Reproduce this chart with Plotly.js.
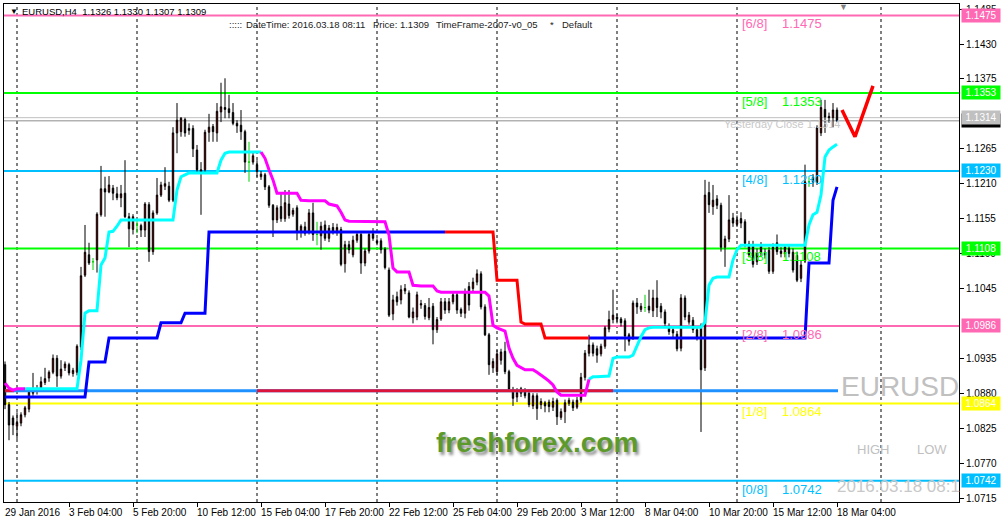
<!DOCTYPE html>
<html>
<head>
<meta charset="utf-8">
<script src="https://cdn.plot.ly/plotly-3.0.1.min.js"></script>
<style>html,body{margin:0;padding:0;background:#fff;}#chart{width:1001px;height:525px;}</style>
</head>
<body>
<div id="chart"></div>
<script>
// ---------- DATA (EURUSD, H4, bar index 0 = 29 Jan 2016) ----------
const opens = [
1.0925,1.0862,1.0841,1.0828,1.0833,1.0846,1.0855,1.0880,1.0883,1.0888,
1.0897,1.0904,1.0913,1.0935,1.0907,1.0920,1.0925,1.0911,1.0913,1.0953,
1.1066,1.1098,1.1087,1.1090,1.1161,1.1202,1.1197,1.1203,1.1194,1.1188,
1.1195,1.1158,1.1138,1.1145,1.1144,1.1137,1.1177,1.1103,1.1164,1.1192,
1.1206,1.1206,1.1184,1.1290,1.1292,1.1311,1.1297,1.1297,1.1263,1.1232,
1.1232,1.1291,1.1300,1.1290,1.1323,1.1330,1.1328,1.1322,1.1305,1.1302,
1.1292,1.1244,1.1244,1.1240,1.1221,1.1224,1.1205,1.1176,1.1153,1.1174,
1.1155,1.1178,1.1162,1.1172,1.1134,1.1142,1.1134,1.1164,1.1130,1.1128,
1.1145,1.1124,1.1141,1.1133,1.1138,1.1084,1.1114,1.1098,1.1121,1.1130,
1.1085,1.1104,1.1131,1.1120,1.1120,1.1107,1.1074,1.1005,1.1032,1.1027,
1.1041,1.1038,1.0999,1.1000,1.1019,1.1018,1.0999,1.1017,1.0980,1.0997,
1.1024,1.1011,1.1024,1.1035,1.1012,1.1006,1.1048,1.1045,1.1055,1.1068,
1.1016,1.0972,1.0920,1.0914,1.0932,1.0946,1.0914,1.0886,1.0874,1.0887,
1.0882,1.0880,1.0860,1.0876,1.0862,1.0865,1.0866,1.0858,1.0869,1.0842,
1.0851,1.0864,1.0866,1.0858,1.0869,1.0905,1.0943,1.0956,1.0950,1.0942,
1.0954,1.0981,1.0996,1.1000,1.0997,1.0994,1.0972,1.0968,1.1022,1.1012,
1.1015,1.1017,1.1010,1.1030,1.1017,1.1008,1.0985,1.0980,1.0973,1.0951,
1.1030,1.0992,1.0995,1.0980,1.0984,1.0920,1.1196,1.1174,1.1186,1.1176,
1.1110,1.1123,1.1156,1.1146,1.1155,1.1150,1.1115,1.1114,1.1087,1.1113,
1.1102,1.1105,1.1072,1.1117,1.1104,1.1100,1.1108,1.1102,1.1097,1.1061,
1.1088,1.1213,1.1220,1.1212,1.1290,1.1327,1.1316,1.1314,1.1326];
const highs = [
1.0930,1.0866,1.0845,1.0850,1.0850,1.0860,1.0885,1.0912,1.0893,1.0906,
1.0920,1.0916,1.0941,1.0940,1.0932,1.0930,1.0928,1.0920,1.0957,1.1079,
1.1145,1.1117,1.1093,1.1165,1.1238,1.1221,1.1222,1.1208,1.1205,1.1208,
1.1247,1.1164,1.1162,1.1153,1.1147,1.1181,1.1181,1.1168,1.1219,1.1213,
1.1236,1.1213,1.1299,1.1337,1.1315,1.1314,1.1305,1.1302,1.1271,1.1244,
1.1295,1.1320,1.1304,1.1337,1.1369,1.1376,1.1350,1.1337,1.1310,1.1326,
1.1295,1.1276,1.1260,1.1247,1.1230,1.1227,1.1208,1.1178,1.1176,1.1195,
1.1200,1.1200,1.1172,1.1176,1.1146,1.1150,1.1170,1.1180,1.1150,1.1150,
1.1152,1.1145,1.1148,1.1147,1.1142,1.1120,1.1120,1.1128,1.1134,1.1135,
1.1108,1.1134,1.1140,1.1124,1.1124,1.1110,1.1078,1.1035,1.1040,1.1050,
1.1052,1.1042,1.1015,1.1040,1.1027,1.1022,1.1030,1.1022,1.1000,1.1030,
1.1030,1.1030,1.1040,1.1040,1.1015,1.1045,1.1055,1.1062,1.1075,1.1072,
1.1020,1.0975,1.0935,1.0948,1.0950,1.0961,1.0917,1.0890,1.0888,1.0890,
1.0888,1.0886,1.0880,1.0880,1.0872,1.0868,1.0870,1.0873,1.0872,1.0856,
1.0870,1.0873,1.0870,1.0874,1.0912,1.0948,1.0972,1.0960,1.0955,1.0958,
1.0986,1.1010,1.1043,1.1005,1.1000,1.0998,1.0975,1.1026,1.1030,1.1022,
1.1035,1.1043,1.1043,1.1058,1.1022,1.1012,1.0990,1.0985,1.0978,1.1036,
1.1034,1.1008,1.1000,1.0985,1.0990,1.1216,1.1213,1.1208,1.1192,1.1180,
1.1128,1.1192,1.1164,1.1160,1.1165,1.1154,1.1120,1.1120,1.1108,1.1118,
1.1108,1.1110,1.1116,1.1130,1.1110,1.1115,1.1112,1.1108,1.1103,1.1090,
1.1240,1.1220,1.1225,1.1302,1.1342,1.1342,1.1322,1.1337,1.1330];
const lows = [
1.0855,1.0806,1.0814,1.0808,1.0828,1.0842,1.0850,1.0876,1.0878,1.0884,
1.0893,1.0898,1.0910,1.0890,1.0903,1.0915,1.0908,1.0906,1.0908,1.0948,
1.1063,1.1082,1.1074,1.1070,1.1158,1.1158,1.1195,1.1184,1.1184,1.1173,
1.1156,1.1110,1.1130,1.1132,1.1126,1.1126,1.1087,1.1098,1.1161,1.1189,
1.1200,1.1181,1.1181,1.1258,1.1284,1.1284,1.1287,1.1252,1.1227,1.1161,
1.1228,1.1276,1.1276,1.1276,1.1307,1.1313,1.1313,1.1302,1.1290,1.1279,
1.1227,1.1213,1.1240,1.1221,1.1216,1.1200,1.1172,1.1126,1.1148,1.1150,
1.1150,1.1155,1.1158,1.1121,1.1125,1.1128,1.1130,1.1120,1.1113,1.1106,
1.1120,1.1118,1.1130,1.1128,1.1080,1.1070,1.1100,1.1094,1.1117,1.1068,
1.1080,1.1100,1.1120,1.1113,1.1100,1.1075,1.1000,1.0995,1.1018,1.1020,
1.1036,1.0998,1.0990,1.0995,1.1013,1.0996,1.0995,1.0957,1.0975,1.0994,
1.1005,1.1006,1.1020,1.1005,1.1000,1.0998,1.1010,1.1040,1.1050,1.1012,
1.0970,1.0909,1.0912,1.0909,1.0925,1.0910,1.0882,1.0860,1.0866,1.0874,
1.0872,1.0858,1.0855,1.0838,1.0855,1.0850,1.0850,1.0852,1.0830,1.0838,
1.0833,1.0860,1.0852,1.0855,1.0865,1.0900,1.0938,1.0938,1.0928,1.0938,
1.0950,1.0976,1.0990,1.0990,1.0985,1.0946,1.0955,1.0964,1.1005,1.1008,
1.1008,1.1006,1.1000,1.1000,1.0998,1.0985,1.0972,1.0968,1.0946,1.0946,
1.0995,1.0988,1.0975,1.0963,1.0819,1.0915,1.1164,1.1161,1.1170,1.1103,
1.1079,1.1118,1.1142,1.1142,1.1140,1.1110,1.1094,1.1078,1.1082,1.1095,
1.1092,1.1068,1.1068,1.1098,1.1094,1.1094,1.1094,1.1070,1.1055,1.1055,
1.1085,1.1205,1.1205,1.1208,1.1285,1.1290,1.1306,1.1299,1.1307];
const closes = [
1.0862,1.0830,1.0830,1.0834,1.0846,1.0857,1.0882,1.0883,1.0887,1.0898,
1.0903,1.0913,1.0935,1.0907,1.0918,1.0926,1.0912,1.0916,1.0954,1.1065,
1.1102,1.1085,1.1087,1.1162,1.1202,1.1197,1.1208,1.1195,1.1188,1.1194,
1.1158,1.1139,1.1158,1.1145,1.1137,1.1178,1.1103,1.1164,1.1192,1.1208,
1.1210,1.1184,1.1290,1.1310,1.1313,1.1290,1.1294,1.1265,1.1232,1.1227,
1.1291,1.1299,1.1292,1.1324,1.1331,1.1327,1.1322,1.1305,1.1301,1.1292,
1.1244,1.1244,1.1254,1.1229,1.1225,1.1205,1.1176,1.1153,1.1172,1.1155,
1.1180,1.1160,1.1168,1.1134,1.1143,1.1132,1.1164,1.1130,1.1130,1.1143,
1.1124,1.1140,1.1134,1.1141,1.1083,1.1114,1.1106,1.1121,1.1130,1.1085,
1.1104,1.1130,1.1124,1.1117,1.1106,1.1078,1.1003,1.1027,1.1024,1.1043,
1.1045,1.1000,1.1008,1.1035,1.1021,1.1001,1.1015,1.0980,1.0996,1.1024,
1.1011,1.1024,1.1035,1.1011,1.1006,1.1039,1.1019,1.1055,1.1068,1.1016,
1.0972,1.0925,1.0930,1.0942,1.0945,1.0914,1.0886,1.0872,1.0881,1.0880,
1.0876,1.0862,1.0876,1.0856,1.0867,1.0860,1.0859,1.0867,1.0843,1.0851,
1.0865,1.0869,1.0857,1.0869,1.0905,1.0943,1.0956,1.0943,1.0940,1.0954,
1.0983,1.0996,1.1003,1.0997,1.0991,1.0970,1.0962,1.1022,1.1016,1.1017,
1.1015,1.1011,1.1030,1.1015,1.1008,1.0990,1.0977,1.0975,1.0950,1.1030,
1.1000,1.1003,1.0980,1.0968,1.0917,1.1192,1.1177,1.1184,1.1176,1.1110,
1.1123,1.1153,1.1148,1.1153,1.1148,1.1116,1.1098,1.1083,1.1100,1.1101,
1.1098,1.1072,1.1110,1.1103,1.1100,1.1110,1.1100,1.1074,1.1058,1.1082,
1.1213,1.1213,1.1212,1.1298,1.1330,1.1315,1.1314,1.1326,1.1309];

// fast trailing line (cyan when up, magenta when down)
const trendLine = [
1.0896,1.0888,1.0885,1.0887,1.0887,1.0887,1.0887,1.0887,1.0887,1.0887,
1.0887,1.0887,1.0887,1.0887,1.0887,1.0887,1.0887,1.0887,1.0887,1.0932,
1.1006,1.1010,1.1010,1.1010,1.1082,1.1093,1.1134,1.1135,1.1143,1.1153,
1.1153,1.1153,1.1153,1.1153,1.1153,1.1153,1.1153,1.1153,1.1153,1.1153,
1.1153,1.1153,1.1153,1.1200,1.1221,1.1224,1.1227,1.1227,1.1227,1.1227,
1.1227,1.1227,1.1227,1.1227,1.1247,1.1258,1.1260,1.1260,1.1260,1.1260,
1.1260,1.1260,1.1260,1.1260,1.1260,1.1250,1.1232,1.1216,1.1195,1.1195,
1.1195,1.1195,1.1195,1.1195,1.1184,1.1183,1.1183,1.1183,1.1183,1.1183,
1.1183,1.1178,1.1176,1.1175,1.1165,1.1153,1.1151,1.1151,1.1151,1.1151,
1.1151,1.1151,1.1151,1.1151,1.1151,1.1150,1.1129,1.1077,1.1071,1.1071,
1.1071,1.1071,1.1050,1.1049,1.1049,1.1049,1.1049,1.1049,1.1041,1.1039,
1.1039,1.1039,1.1039,1.1039,1.1039,1.1039,1.1039,1.1039,1.1039,1.1039,
1.1039,1.1033,1.0987,1.0983,1.0981,1.0978,1.0951,1.0935,1.0924,1.0920,
1.0917,1.0917,1.0917,1.0913,1.0909,1.0904,1.0899,1.0893,1.0882,1.0877,
1.0877,1.0877,1.0877,1.0877,1.0877,1.0877,1.0902,1.0906,1.0906,1.0906,
1.0906,1.0907,1.0935,1.0937,1.0937,1.0937,1.0937,1.0940,1.0956,1.0969,
1.0980,1.0983,1.0984,1.0984,1.0984,1.0984,1.0984,1.0984,1.0984,1.0984,
1.0984,1.0984,1.0984,1.0984,1.0984,1.0992,1.1050,1.1061,1.1063,1.1063,
1.1063,1.1063,1.1090,1.1106,1.1113,1.1113,1.1113,1.1113,1.1113,1.1113,
1.1113,1.1113,1.1113,1.1113,1.1113,1.1113,1.1113,1.1113,1.1113,1.1113,
1.1113,1.1145,1.1161,1.1165,1.1192,1.1252,1.1263,1.1268,1.1272];
const trendDownSegments = [[0,5],[64,146]];

// slow channel line (blue when up, red when down)
const channelLine = [
1.0874,1.0874,1.0874,1.0874,1.0874,1.0874,1.0874,1.0874,1.0874,1.0874,
1.0874,1.0874,1.0874,1.0874,1.0874,1.0874,1.0874,1.0874,1.0874,1.0874,
1.0874,1.0929,1.0929,1.0929,1.0929,1.0929,1.0967,1.0967,1.0967,1.0967,
1.0967,1.0967,1.0967,1.0967,1.0967,1.0967,1.0967,1.0967,1.0967,1.0991,
1.0991,1.0991,1.0991,1.0991,1.0991,1.1006,1.1006,1.1006,1.1006,1.1006,
1.1006,1.1134,1.1134,1.1134,1.1134,1.1134,1.1134,1.1134,1.1134,1.1134,
1.1134,1.1134,1.1134,1.1134,1.1134,1.1134,1.1134,1.1134,1.1134,1.1134,
1.1134,1.1134,1.1134,1.1134,1.1134,1.1134,1.1134,1.1134,1.1134,1.1134,
1.1134,1.1134,1.1134,1.1134,1.1134,1.1134,1.1134,1.1134,1.1134,1.1134,
1.1134,1.1134,1.1134,1.1134,1.1134,1.1134,1.1134,1.1134,1.1134,1.1134,
1.1134,1.1134,1.1134,1.1134,1.1134,1.1134,1.1134,1.1134,1.1134,1.1134,
1.1134,1.1134,1.1134,1.1134,1.1134,1.1134,1.1134,1.1134,1.1134,1.1134,
1.1134,1.1134,1.1134,1.1058,1.1058,1.1058,1.1058,1.1058,1.1058,1.0992,
1.0989,1.0989,1.0989,1.0989,1.0989,1.0967,1.0967,1.0967,1.0967,1.0967,
1.0967,1.0967,1.0967,1.0967,1.0967,1.0967,1.0967,1.0967,1.0967,1.0967,
1.0967,1.0967,1.0967,1.0967,1.0967,1.0967,1.0967,1.0967,1.0967,1.0967,
1.0967,1.0967,1.0967,1.0967,1.0967,1.0967,1.0967,1.0967,1.0967,1.0967,
1.0967,1.0967,1.0967,1.0967,1.0967,1.0967,1.0967,1.0967,1.0967,1.0967,
1.0967,1.0967,1.0967,1.0967,1.0967,1.0967,1.0967,1.0967,1.0967,1.0967,
1.0967,1.0967,1.0967,1.0967,1.0967,1.0967,1.0967,1.0967,1.0967,1.0967,
1.0967,1.1085,1.1085,1.1085,1.1085,1.1085,1.1085,1.1184,1.1205];
const channelDownSegments = [[110,146]];

// support/resistance level line
const srLevel = 1.0884;
const srEnd = 208.25;
const srRedSegments = [[0,2.25],[63,152]];

// Murrey math levels
const murreyLevels = [1.0742, 1.0864, 1.0986, 1.1108, 1.1230, 1.1353, 1.1475];
const murreyNames  = ["[0/8]","[1/8]","[2/8]","[3/8]","[4/8]","[5/8]","[6/8]"];
const murreyColors = ["#00BFFF","#FFFF00","#FF69B4","#00FF00","#00BFFF","#00FF00","#FF69B4"];

const yesterdayClose = 1.1314;
const bidPrice = 1.1309;

// hand-drawn forecast tick mark
const forecastX = [209.25, 212.5, 217];
const forecastY = [1.1326, 1.1284, 1.1364];

// axes
const yTicks = [1.0715,1.0770,1.0825,1.0880,1.0935,1.1045,1.1100,1.1155,1.1210,1.1265,1.1375,1.1430,1.1485];
const xLabelIdx = [0,16,32,48,64,80,96,112,128,144,160,176,192,208];
const xLabels = ["29 Jan 2016","3 Feb 04:00","5 Feb 20:00","10 Feb 12:00","15 Feb 04:00","17 Feb 20:00",
  "22 Feb 12:00","25 Feb 04:00","29 Feb 20:00","3 Mar 12:00","8 Mar 04:00","10 Mar 20:00","15 Mar 12:00","18 Mar 04:00"];
const weekSeparators = [3,33,63,93,123,153,183,219];

// ---------- BUILD ----------
const FONT = "Liberation Sans, Arial, sans-serif";
const N = opens.length;
const idx = Array.from({length:N}, (_, i) => i);
const isDoji = i => opens[i] === closes[i];
const mainIdx = idx.filter(i => !isDoji(i));
const dojiIdx = idx.filter(i => isDoji(i));
const pick = (arr, list) => list.map(i => arr[i]);

function complement(segs, last) {
  const out = []; let start = 0;
  segs.forEach(([a,b]) => { if (a > start) out.push([start,a]); start = b; });
  if (start < last) out.push([start,last]);
  return out;
}
function segLine(values, segs, color, width) {
  const xs = [], ys = [];
  segs.forEach(([a,b]) => {
    for (let i = a; i <= b; i++) { xs.push(i); ys.push(values[i]); }
    xs.push(null); ys.push(null);
  });
  return {type:'scatter', mode:'lines', x:xs, y:ys, line:{color, width}, hoverinfo:'skip', showlegend:false};
}
function levelSegs(level, segs, color, width) {
  const xs = [], ys = [];
  segs.forEach(([a,b]) => { xs.push(a,b,null); ys.push(level,level,null); });
  return {type:'scatter', mode:'lines', x:xs, y:ys, line:{color, width}, hoverinfo:'skip', showlegend:false};
}

const traces = [];
traces.push({type:'candlestick', x:mainIdx, open:pick(opens,mainIdx), high:pick(highs,mainIdx),
  low:pick(lows,mainIdx), close:pick(closes,mainIdx),
  increasing:{line:{color:'#000000', width:1}, fillcolor:'#e00000'},
  decreasing:{line:{color:'#000000', width:1}, fillcolor:'#000000'},
  whiskerwidth:0, hoverinfo:'skip', showlegend:false});
traces.push({type:'candlestick', x:dojiIdx, open:pick(opens,dojiIdx), high:pick(highs,dojiIdx),
  low:pick(lows,dojiIdx), close:pick(closes,dojiIdx),
  increasing:{line:{color:'#00d000', width:1}, fillcolor:'#00d000'},
  decreasing:{line:{color:'#00d000', width:1}, fillcolor:'#00d000'},
  whiskerwidth:0, hoverinfo:'skip', showlegend:false});

traces.push(levelSegs(srLevel, [[0, srEnd]], '#1E90FF', 3));
traces.push(levelSegs(srLevel, srRedSegments, '#DC143C', 3));

traces.push(segLine(channelLine, complement(channelDownSegments, N-1), '#0000FF', 3));
traces.push(segLine(channelLine, channelDownSegments, '#FF0000', 3));
traces.push(segLine(trendLine, complement(trendDownSegments, N-1), '#00FFFF', 3));
traces.push(segLine(trendLine, trendDownSegments, '#FF00FF', 3));

traces.push({type:'scatter', mode:'lines', x:forecastX, y:forecastY, line:{color:'#FF0000', width:3.5},
  hoverinfo:'skip', showlegend:false});

const shapes = [];
weekSeparators.forEach(s => shapes.push({type:'line', xref:'x', yref:'paper', x0:s, x1:s, y0:0, y1:1,
  line:{color:'#000000', width:1, dash:'3px,3px'}, layer:'below'}));
murreyLevels.forEach((lv, k) => shapes.push({type:'line', xref:'paper', yref:'y', x0:0, x1:1, y0:lv, y1:lv,
  line:{color:murreyColors[k], width:2}, layer:'below'}));
shapes.push({type:'line', xref:'paper', yref:'y', x0:0, x1:1, y0:yesterdayClose, y1:yesterdayClose,
  line:{color:'#C0C0C0', width:1}, layer:'below'});
shapes.push({type:'line', xref:'paper', yref:'y', x0:0, x1:1, y0:bidPrice, y1:bidPrice,
  line:{color:'#8c8c8c', width:1}, layer:'below'});

// pixel helpers for free text placement (plot area 4..959 x 4..502)
const px = v => (v - 4) / 955;
const py = v => (502 - v) / 498;

const ann = [];
// Murrey labels
murreyLevels.forEach((lv, k) => {
  ann.push({xref:'x', yref:'y', x:183.75, y:lv, xanchor:'left', yanchor:'top', yshift:1, showarrow:false,
    text:murreyNames[k], font:{family:FONT, size:13, color:murreyColors[k]}});
  ann.push({xref:'x', yref:'y', x:193.75, y:lv, xanchor:'left', yanchor:'top', yshift:1, showarrow:false,
    text:lv.toFixed(4), font:{family:FONT, size:13, color:murreyColors[k]}});
});
// right price boxes
const boxes = [[bidPrice,'#000000']].concat(murreyLevels.map((lv,k)=>[lv, murreyColors[k]]));
boxes.splice(1, 0, [yesterdayClose, '#C0C0C0']);
boxes.forEach(([v, c]) => ann.push({xref:'paper', yref:'y', x:1, y:v, xanchor:'left', yanchor:'middle', xshift:2,
  showarrow:false, text:v.toFixed(4), bgcolor:c, width:36, height:11, borderpad:1,
  font:{family:FONT, size:10, color:'#ffffff'}}));
// x labels
xLabelIdx.forEach((xi, k) => ann.push({xref:'x', yref:'paper', x:xi, y:0, xanchor:'left', yanchor:'top',
  xshift:-2, yshift:-3, showarrow:false, text:xLabels[k], font:{family:FONT, size:10, color:'#000000'}}));
// headers
ann.push({xref:'paper', yref:'paper', x:px(8), y:py(12), xanchor:'left', yanchor:'middle', showarrow:false,
  text:'\u25BC', font:{family:FONT, size:8, color:'#000000'}});
ann.push({xref:'paper', yref:'paper', x:px(20), y:py(12), xanchor:'left', yanchor:'middle', showarrow:false,
  text:'EURUSD,H4\u00a0\u00a01.1326 1.1330 1.1307 1.1309', font:{family:FONT, size:9.5, color:'#000000'}});
[[227,':::::'],[244,'DateTime: 2016.03.18 08:11'],[371,'Price: 1.1309'],[434,'TimeFrame-2007-v0_05'],[548,'*'],[560,'Default']]
  .forEach(([x,t]) => ann.push({xref:'paper', yref:'paper', x:px(x), y:py(25), xanchor:'left', yanchor:'middle',
    showarrow:false, text:t, font:{family:FONT, size:9.5, color:'#222222'}}));
ann.push({xref:'paper', yref:'paper', x:px(843), y:py(7), xanchor:'center', yanchor:'middle', showarrow:false,
  text:'\u25BC', font:{family:FONT, size:9, color:'#808080'}});
ann.push({xref:'paper', yref:'paper', x:px(722), y:py(124), xanchor:'left', yanchor:'middle', showarrow:false,
  text:'Yesterday Close ' + yesterdayClose.toFixed(4), font:{family:FONT, size:11, color:'#c8c8c8'}});
ann.push({xref:'paper', yref:'paper', x:px(839), y:py(386), xanchor:'left', yanchor:'middle', showarrow:false,
  text:'EURUSD', font:{family:FONT, size:28, color:'#c0c0c0'}});
ann.push({xref:'paper', yref:'paper', x:px(855), y:py(449), xanchor:'left', yanchor:'middle', showarrow:false,
  text:'HIGH', font:{family:FONT, size:13, color:'#c0c0c0'}});
ann.push({xref:'paper', yref:'paper', x:px(915), y:py(449), xanchor:'left', yanchor:'middle', showarrow:false,
  text:'LOW', font:{family:FONT, size:13, color:'#c0c0c0'}});
ann.push({xref:'paper', yref:'paper', x:px(835), y:py(486), xanchor:'left', yanchor:'middle', showarrow:false,
  text:'2016.03.18 08:1', font:{family:FONT, size:17, color:'#c8c8c8'}});
ann.push({xref:'paper', yref:'paper', x:px(434), y:py(442), xanchor:'left', yanchor:'middle', showarrow:false,
  text:'freshforex.com', font:{family:FONT, size:28, color:'#5c9a2c', weight:'bold',
  shadow:'2px 3px 3px rgba(0,0,0,0.45)'}});

const layout = {
  width:1001, height:525,
  margin:{l:4, r:42, t:4, b:23, pad:0},
  paper_bgcolor:'#ffffff', plot_bgcolor:'#ffffff',
  showlegend:false, boxgap:0.5,
  font:{family:FONT, size:10, color:'#000000'},
  xaxis:{range:[-0.25, 238.5], showgrid:false, zeroline:false, showline:true, linecolor:'#000000', linewidth:1,
    mirror:true, ticks:'outside', ticklen:4, tickcolor:'#000000', tickvals:xLabelIdx.slice(1),
    showticklabels:false, rangeslider:{visible:false}, fixedrange:true},
  yaxis:{side:'right', range:[1.07087, 1.1493], tickvals:yTicks, ticktext:yTicks.map(v=>v.toFixed(4)),
    ticks:'outside', ticklen:4, tickcolor:'#000000', showline:true, linecolor:'#000000', linewidth:1, mirror:true,
    showgrid:false, zeroline:false, tickfont:{family:FONT, size:10, color:'#000000'}, fixedrange:true},
  shapes, annotations:ann
};
Plotly.newPlot('chart', traces, layout, {staticPlot:true, displayModeBar:false});
</script>
</body>
</html>
